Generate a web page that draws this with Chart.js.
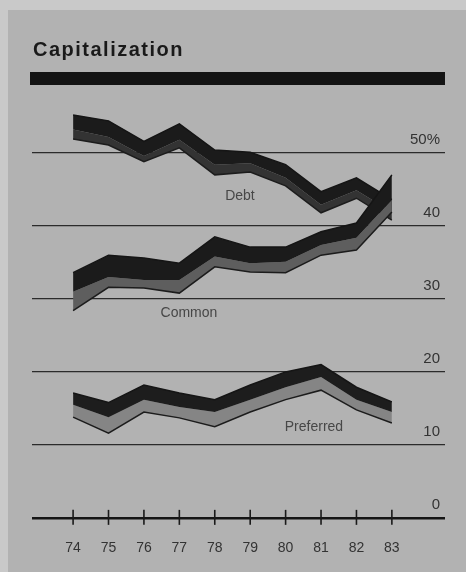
<!DOCTYPE html>
<html lang="en">
<head>
<meta charset="UTF-8">
<title>Capitalization</title>
<script src="https://cdn.jsdelivr.net/npm/chart.js"></script>
<style>
    html, body { margin: 0; padding: 0; background: #c9c9c9; }
    canvas { display: block; }
</style>
</head>
<body>
<canvas id="capChart" width="466" height="572"></canvas>
<script>
// years on the x axis
const years = [74, 75, 76, 77, 78, 79, 80, 81, 82, 83];
// y axis ticks (percent)
const yTicks = [0, 10, 20, 30, 40, 50];

// each ribbon: upper edge, dark/gray boundary, lower edge (percent)
const debtTop = [55.2, 54.4, 51.6, 54.0, 50.4, 50.1, 48.4, 44.7, 46.6, 43.6];
const debtMid = [53.2, 52.2, 49.6, 51.8, 48.4, 48.6, 46.6, 42.9, 44.9, 41.9];
const debtLow = [51.9, 51.1, 48.8, 50.7, 47.0, 47.4, 45.5, 41.8, 43.8, 40.8];

const commonTop = [33.6, 36.0, 35.6, 34.9, 38.5, 37.1, 37.1, 39.2, 40.4, 47.0];
const commonMid = [31.0, 33.0, 32.6, 32.6, 35.8, 34.9, 35.1, 37.4, 38.4, 43.6];
const commonLow = [28.4, 31.6, 31.5, 30.8, 34.4, 33.7, 33.6, 36.0, 36.7, 41.9];

const prefTop = [17.1, 15.8, 18.2, 17.1, 16.2, 18.2, 20.0, 21.0, 17.9, 15.9];
const prefMid = [15.5, 13.8, 16.2, 15.2, 14.5, 16.2, 17.9, 19.3, 16.2, 14.5];
const prefLow = [13.8, 11.6, 14.5, 13.7, 12.5, 14.5, 16.2, 17.5, 14.8, 13.0];

const FONT = "'Liberation Sans', Arial, Helvetica, sans-serif";

function pts(vals) {
    return vals.map((v, i) => ({ x: years[i], y: v }));
}

const datasets = [];
function addRibbon(top, mid, low, dark, gray, order) {
    const midIdx = datasets.length;
    datasets.push({ data: pts(mid), borderWidth: 0, pointRadius: 0, fill: false, order: order });
    datasets.push({ data: pts(top), fill: midIdx, backgroundColor: dark, borderColor: '#151515',
        borderWidth: 1.5, pointRadius: 0, order: order });
    datasets.push({ data: pts(low), fill: midIdx, backgroundColor: gray, borderColor: '#1c1c1c',
        borderWidth: 1.5, pointRadius: 0, order: order });
}
addRibbon(debtTop, debtMid, debtLow, '#1b1b1b', '#333333', 3);
addRibbon(commonTop, commonMid, commonLow, '#1b1b1b', '#5e5e5e', 2);
addRibbon(prefTop, prefMid, prefLow, '#1d1d1d', '#858585', 1);

const decor = {
    id: 'decor',
    beforeDraw(chart) {
        const c = chart.ctx;
        c.save();
        c.fillStyle = '#c9c9c9';
        c.fillRect(0, 0, chart.width, chart.height);
        c.fillStyle = '#b2b2b2';
        c.fillRect(8, 10, chart.width - 8, chart.height - 10);
        // title
        c.fillStyle = '#1a1a1a';
        c.font = 'bold 20px ' + FONT;
        c.letterSpacing = '1.5px';
        c.textBaseline = 'alphabetic';
        c.fillText('Capitalization', 33, 56);
        c.letterSpacing = '0px';
        // heavy rule
        c.fillStyle = '#141414';
        c.fillRect(30, 72, 415, 13);
        c.restore();
    },
    afterDatasetsDraw(chart) {
        const c = chart.ctx;
        const xs = chart.scales.x, ys = chart.scales.y;
        const area = chart.chartArea;
        c.save();
        // tick marks across the zero line
        c.strokeStyle = '#1a1a1a';
        c.lineWidth = 1.6;
        const y0 = ys.getPixelForValue(0);
        years.forEach(yr => {
            const px = xs.getPixelForValue(yr);
            c.beginPath();
            c.moveTo(px, y0 - 8);
            c.lineTo(px, y0 + 7);
            c.stroke();
        });
        // y labels sit above their gridline at the right end
        c.fillStyle = '#333';
        c.font = '15px ' + FONT;
        c.textAlign = 'right';
        c.textBaseline = 'middle';
        yTicks.forEach(v => {
            c.fillText(v === 50 ? '50%' : String(v), area.right - 5, ys.getPixelForValue(v) - 13);
        });
        // series names
        c.fillStyle = '#474747';
        c.font = '14px ' + FONT;
        c.textAlign = 'center';
        c.fillText('Debt', xs.getPixelForValue(78.71), ys.getPixelForValue(44.1));
        c.fillText('Common', xs.getPixelForValue(77.27), ys.getPixelForValue(28.1));
        c.fillText('Preferred', xs.getPixelForValue(80.8), ys.getPixelForValue(12.5));
        c.restore();
    }
};

new Chart(document.getElementById('capChart'), {
    type: 'line',
    data: { datasets: datasets },
    options: {
        responsive: false,
        animation: false,
        layout: { padding: { left: 32, right: 21, top: 80, bottom: 14 } },
        plugins: { legend: { display: false }, tooltip: { enabled: false } },
        elements: { line: { tension: 0 } },
        scales: {
            x: {
                type: 'linear',
                position: { y: 0 },
                min: 72.84,
                max: 84.5,
                afterBuildTicks: s => { s.ticks = years.map(v => ({ value: v })); },
                grid: { display: false, drawTicks: false },
                border: { display: false },
                ticks: {
                    padding: 22,
                    color: '#333',
                    font: { family: FONT, size: 14 },
                    callback: v => String(v)
                }
            },
            y: {
                type: 'linear',
                position: 'right',
                min: -5.5,
                max: 60,
                afterBuildTicks: s => { s.ticks = yTicks.map(v => ({ value: v })); },
                grid: {
                    drawTicks: false,
                    color: ctx => ctx.tick && ctx.tick.value === 0 ? '#151515' : '#2b2b2b',
                    lineWidth: ctx => ctx.tick && ctx.tick.value === 0 ? 2.6 : 1.3
                },
                border: { display: false },
                ticks: { display: false }
            }
        }
    },
    plugins: [decor]
});
</script>
</body>
</html>
